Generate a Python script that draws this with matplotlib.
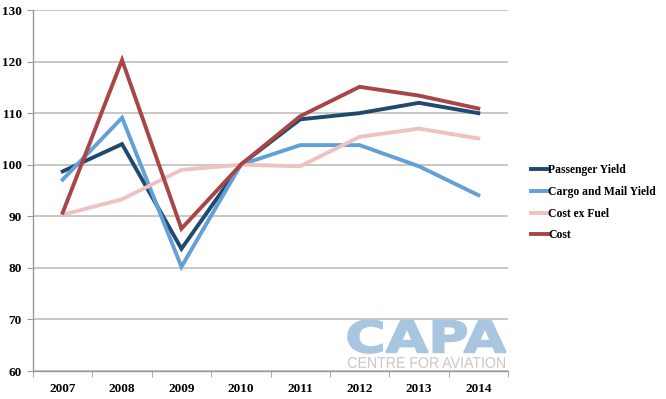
import numpy as np
import matplotlib.pyplot as plt
from matplotlib.textpath import TextPath
from matplotlib.patches import PathPatch
from matplotlib.font_manager import FontProperties
from matplotlib.transforms import Affine2D, IdentityTransform

years = ['2007', '2008', '2009', '2010', '2011', '2012', '2013', '2014']
passenger_yield = [98.7, 104.0, 83.7, 100.0, 108.8, 110.0, 112.0, 110.0]
cargo_mail_yield = [97.1, 109.1, 80.2, 100.0, 103.8, 103.8, 99.7, 94.1]
cost_ex_fuel = [90.3, 93.3, 99.0, 100.0, 99.7, 105.4, 107.0, 105.1]
cost = [90.7, 120.3, 87.6, 100.0, 109.4, 115.1, 113.4, 110.9]

series = [
    ('Passenger Yield', passenger_yield, '#1d4a6e'),
    ('Cargo and Mail Yield', cargo_mail_yield, '#62a0d8'),
    ('Cost ex Fuel', cost_ex_fuel, '#efc2c2'),
    ('Cost', cost, '#a84546'),
]

serif = ['Liberation Serif', 'DejaVu Serif']

fig = plt.figure(figsize=(6.66, 3.99), dpi=100)
ax = fig.add_axes([33/666, 1-371/399, (508-33)/666, (371-10)/399])

x = np.arange(len(years))
for name, vals, col in series:
    ax.plot(x, vals, color=col, lw=2.8, label=name, solid_joinstyle='miter', zorder=3)

ax.set_xlim(-0.5, len(years)-0.5)
ax.set_ylim(60, 130)
ax.set_yticks(np.arange(60, 131, 10))
ax.yaxis.grid(True, color='#c4c4c4', lw=1.3)
ax.set_axisbelow(True)

ax.set_xticks(x)
ax.set_xticklabels(years)
ax.set_xticks(np.arange(-0.5, len(years), 1), minor=True)
ax.tick_params(axis='x', which='major', length=0, pad=9)
ax.tick_params(axis='x', which='minor', length=4, color='#999999', direction='out')
ax.tick_params(axis='y', length=4, color='#999999', pad=4)
for lab in ax.get_xticklabels() + ax.get_yticklabels():
    lab.set_family(serif)
    lab.set_fontweight('bold')
    lab.set_fontsize(9.5)

for s in ['top', 'right']:
    ax.spines[s].set_visible(False)
for s in ['left', 'bottom']:
    ax.spines[s].set_color('#999999')
    ax.spines[s].set_linewidth(1.0)

# watermark, stretched to fill its box (pixel coords from bottom-left)
def stretched_text(s, box, color, fp, lw=0):
    tp = TextPath((0, 0), s, size=10, prop=fp)
    ext = tp.get_extents()
    x0, y0, x1, y1 = box
    tr = (Affine2D().translate(-ext.x0, -ext.y0)
          .scale((x1-x0)/ext.width, (y1-y0)/ext.height)
          .translate(x0, y0))
    fig.patches.append(PathPatch(tr.transform_path(tp), transform=IdentityTransform(),
                                 fc=color, ec=color if lw else 'none', lw=lw, zorder=2))

stretched_text('CAPA', (348, 399-353, 506, 399-320), '#a9c6e0',
               FontProperties(family='DejaVu Sans', weight='bold'), lw=1.2)
stretched_text('CENTRE FOR AVIATION', (348, 399-368, 505, 399-357), '#c8c8c8',
               FontProperties(family='Liberation Sans'))

leg = fig.legend(loc='upper left', bbox_to_anchor=(520/666, 1-154/399),
                 frameon=False, handlelength=1.5, handletextpad=0.0,
                 labelspacing=0.82, prop={'family': serif, 'weight': 'bold', 'size': 8.4})

fig.savefig('out.png', dpi=100)
